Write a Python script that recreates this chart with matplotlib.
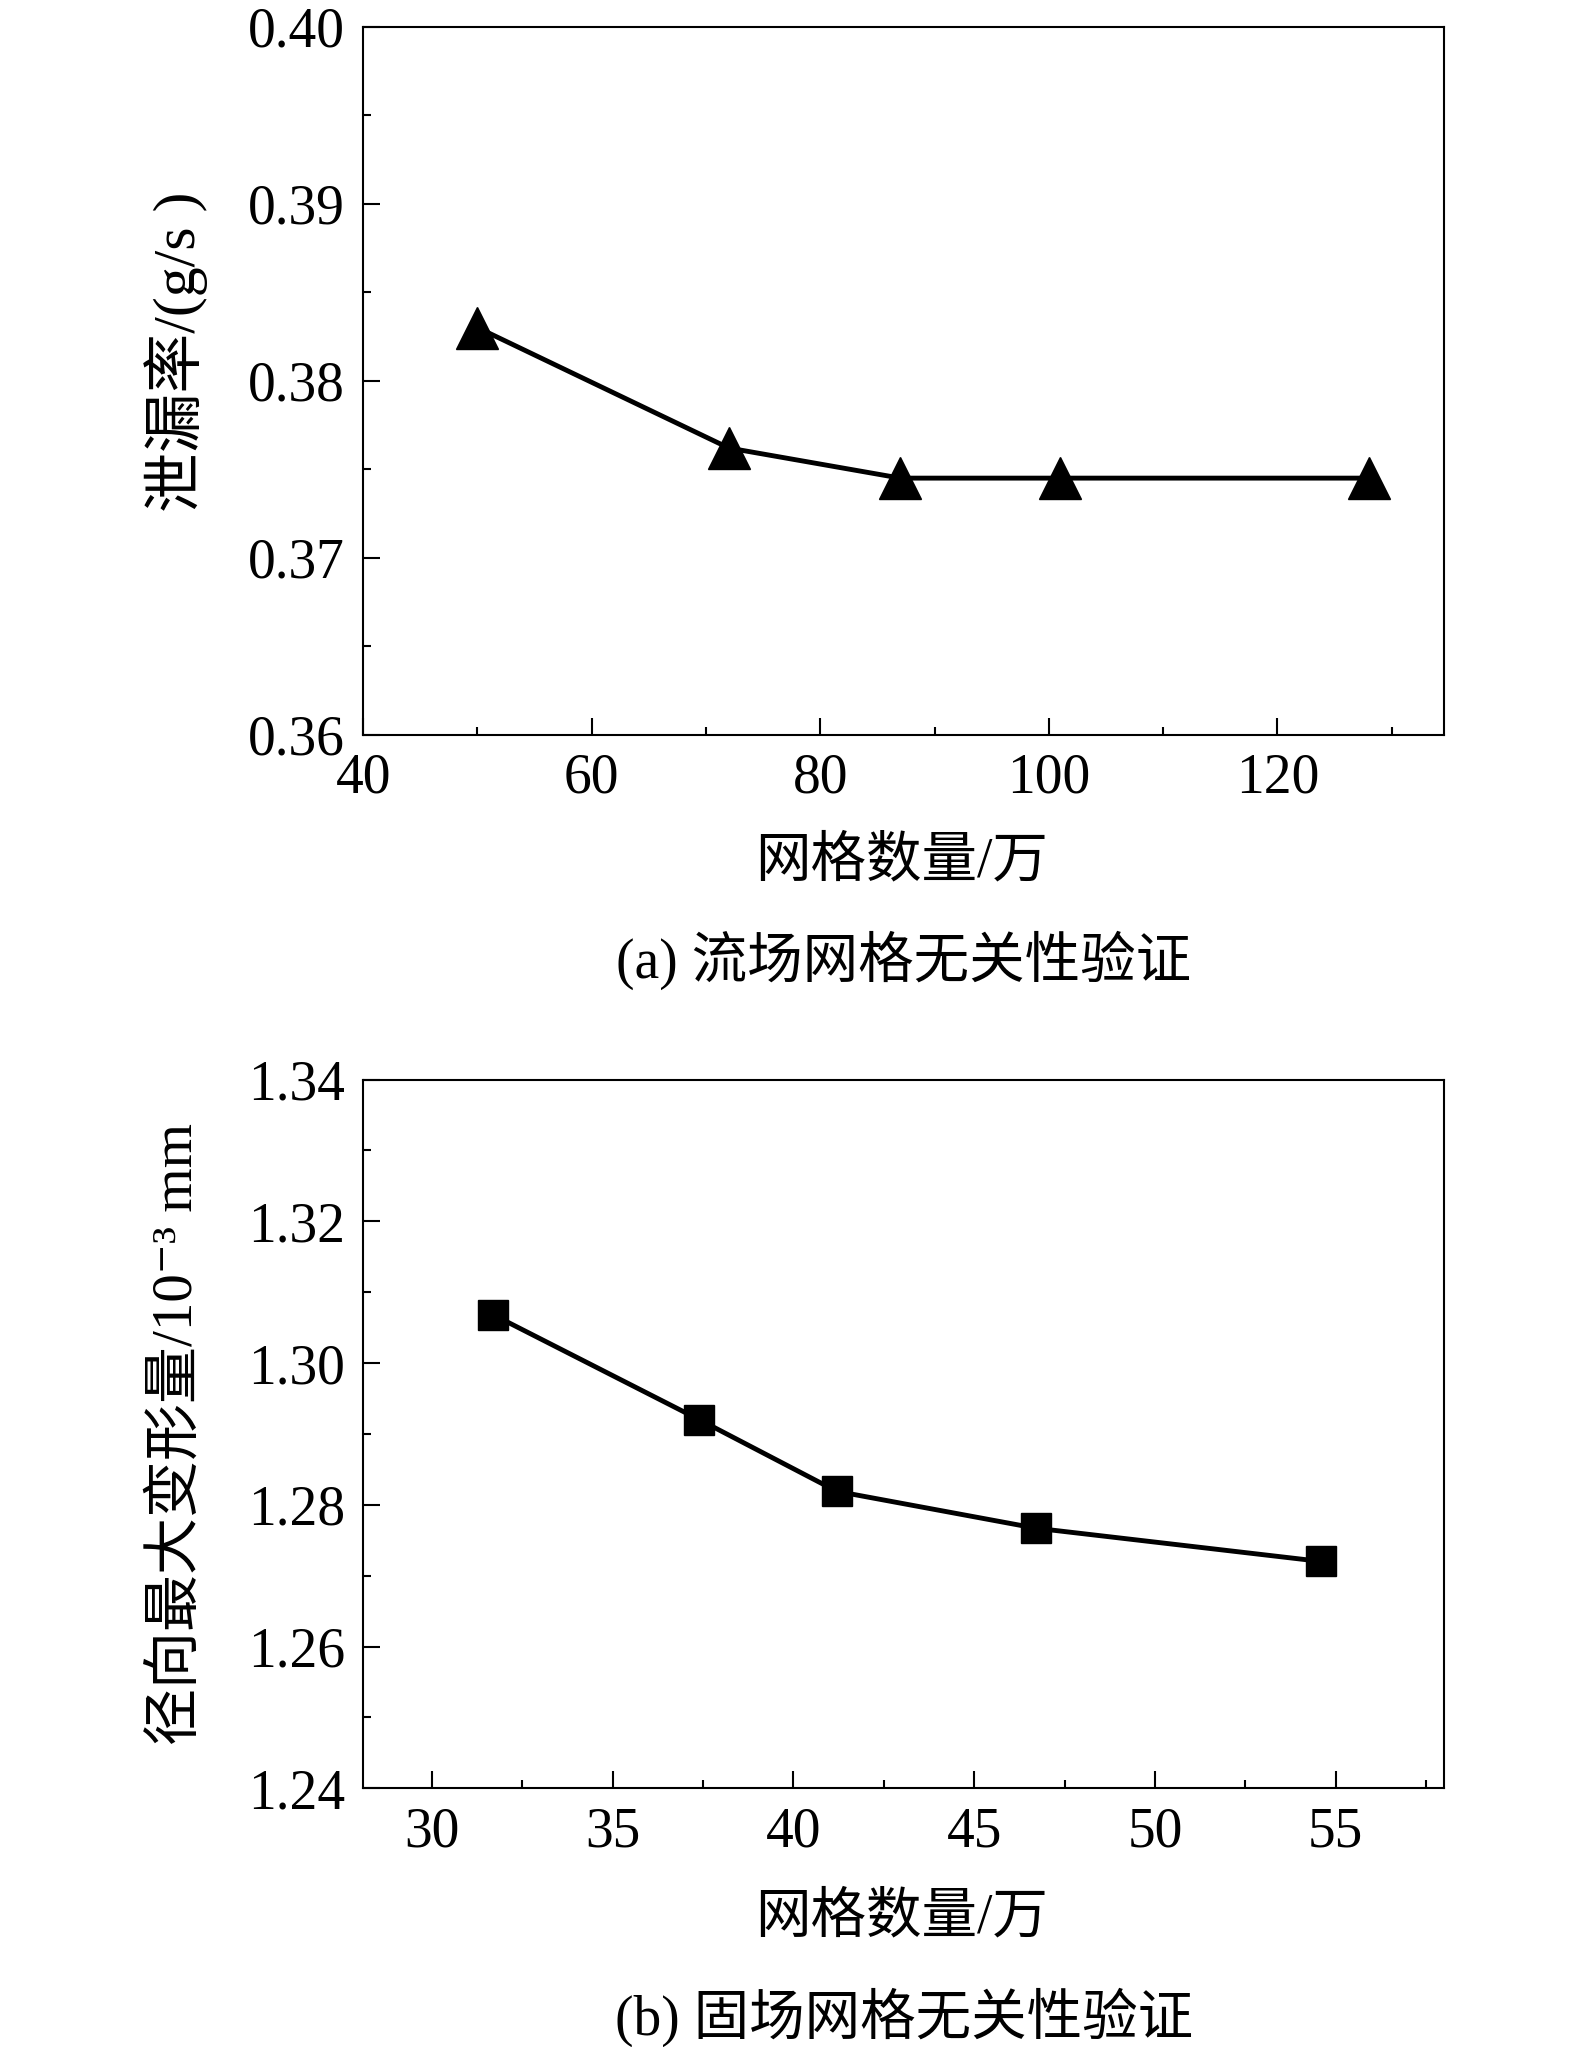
import matplotlib
matplotlib.use("Agg")
import matplotlib.pyplot as plt
from matplotlib.ticker import MultipleLocator, FormatStrFormatter

FONTS = ["Liberation Serif", "Noto Sans CJK SC", "DejaVu Serif"]
plt.rcParams["font.family"] = FONTS

# (a) flow field mesh
mesh_a = [50, 72, 87, 101, 128]
leak_a = [0.3830, 0.3762, 0.3745, 0.3745, 0.3745]

# (b) solid field mesh
mesh_b = [31.7, 37.4, 41.2, 46.7, 54.6]
deform_b = [1.3068, 1.2920, 1.2819, 1.2767, 1.2720]

xlabel = "网格数量/万"
ylabel_a = "泄漏率/(g/s )"
ylabel_b = "径向最大变形量/10⁻³ mm"
caption_a = "(a) 流场网格无关性验证"
caption_b = "(b) 固场网格无关性验证"

fig = plt.figure(figsize=(15.75, 20.47), dpi=100)
ax1 = fig.add_axes([0.2306, 0.641, 0.6864, 0.346])
ax2 = fig.add_axes([0.2306, 0.1264, 0.6864, 0.3462])


def style(ax):
    for s in ax.spines.values():
        s.set_linewidth(1.5)
    ax.tick_params(which="both", direction="in", top=False, right=False,
                   labelsize=40, pad=13, width=1.5)
    ax.tick_params(which="major", length=12)
    ax.tick_params(which="minor", length=6)


ax1.plot(mesh_a, leak_a, color="black", lw=3.5, marker="^", ms=30)
ax1.set_xlim(40, 134.6)
ax1.set_ylim(0.36, 0.40)
ax1.xaxis.set_major_locator(MultipleLocator(20))
ax1.xaxis.set_minor_locator(MultipleLocator(10))
ax1.yaxis.set_major_locator(MultipleLocator(0.01))
ax1.yaxis.set_minor_locator(MultipleLocator(0.005))
ax1.yaxis.set_major_formatter(FormatStrFormatter("%.2f"))
style(ax1)

ax2.plot(mesh_b, deform_b, color="black", lw=3.5, marker="s", ms=21)
ax2.set_xlim(28.1, 58.0)
ax2.set_ylim(1.24, 1.34)
ax2.xaxis.set_major_locator(MultipleLocator(5))
ax2.xaxis.set_minor_locator(MultipleLocator(2.5))
ax2.yaxis.set_major_locator(MultipleLocator(0.02))
ax2.yaxis.set_minor_locator(MultipleLocator(0.01))
ax2.yaxis.set_major_formatter(FormatStrFormatter("%.2f"))
style(ax2)

fig.text(0.112, 0.828, ylabel_a, rotation=90, ha="center", va="center", fontsize=43)
fig.text(0.112, 0.2995, ylabel_b, rotation=90, ha="center", va="center", fontsize=41)
fig.text(0.5726, 0.5785, xlabel, ha="center", va="center", fontsize=40)
fig.text(0.5726, 0.0626, xlabel, ha="center", va="center", fontsize=40)
fig.text(0.574, 0.5307, caption_a, ha="center", va="center", fontsize=40)
fig.text(0.574, 0.0147, caption_b, ha="center", va="center", fontsize=40)

fig.savefig("out.png", dpi=100)
